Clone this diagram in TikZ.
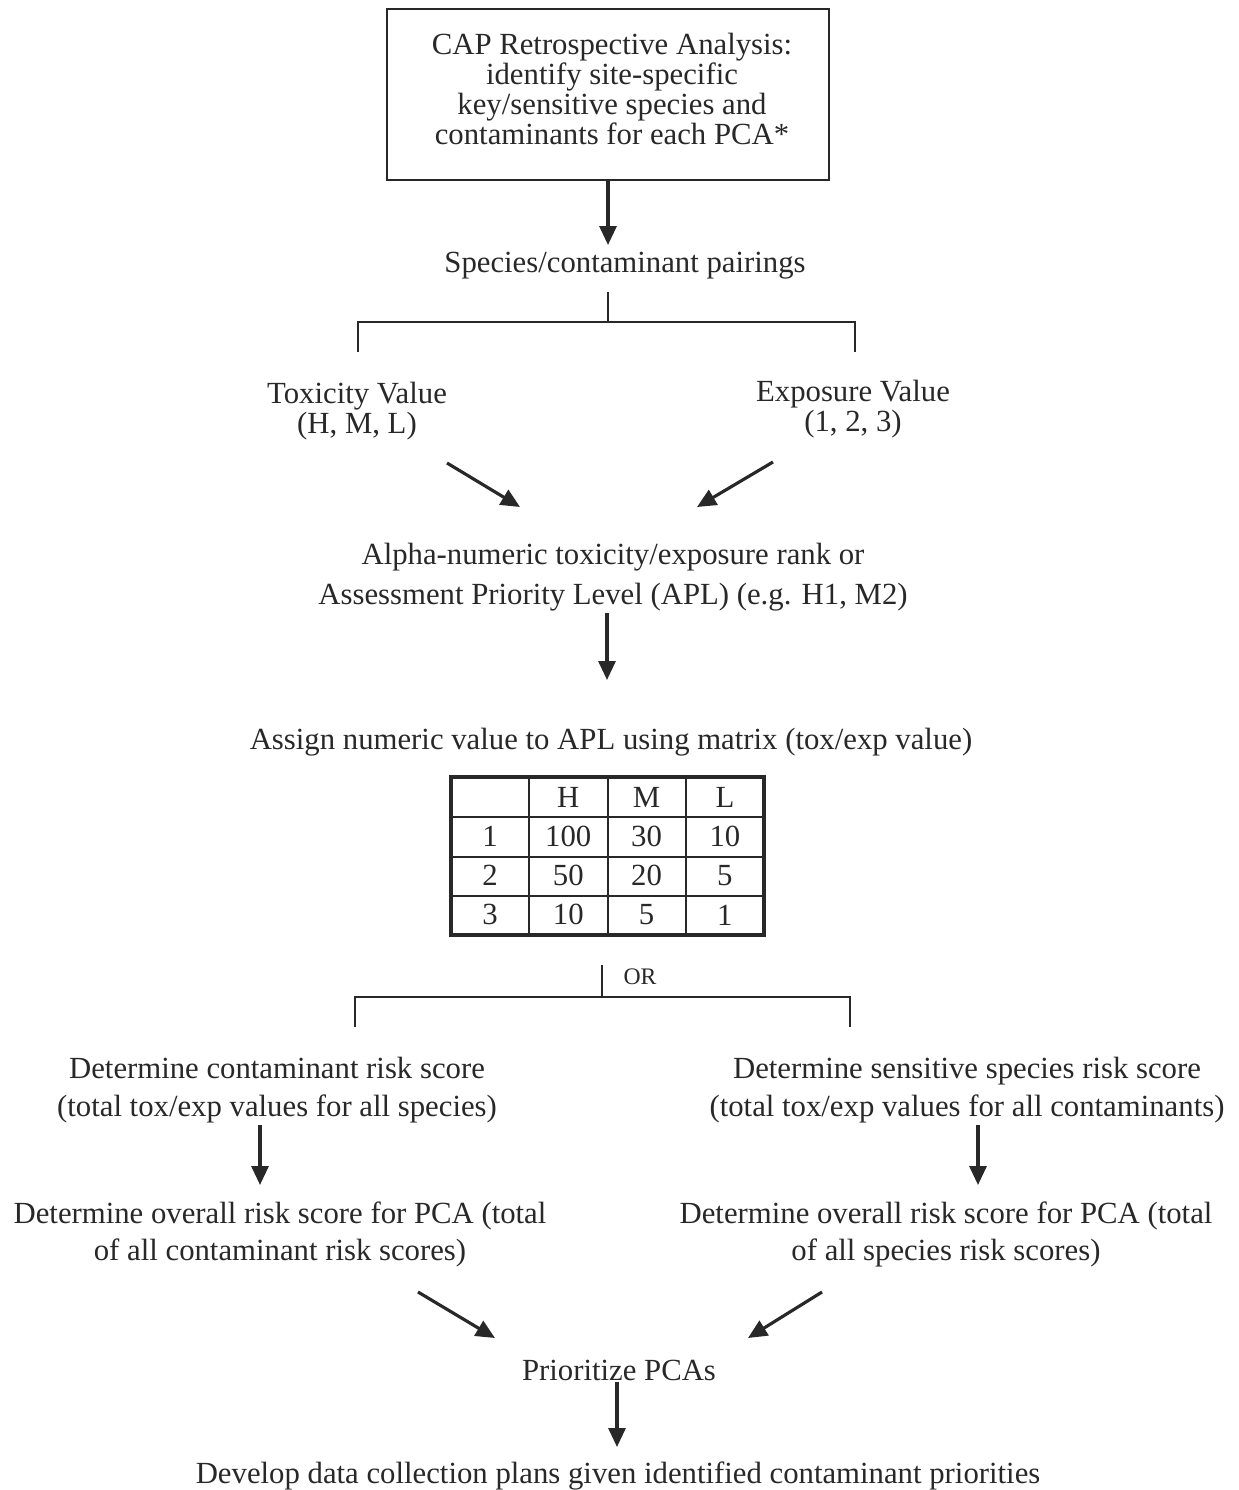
\documentclass[tikz,border=0pt]{standalone}
\usepackage{fontspec}
\setmainfont{Liberation Serif}
\usetikzlibrary{arrows.meta,positioning}
\definecolor{ink}{RGB}{40,40,40}

\tikzset{
  lbl/.style={font=\fontsize{17.5}{21}\selectfont, text=ink, align=center, inner sep=1pt},
  capbox/.style={draw=ink, line width=1.1pt, minimum width=8.84cm, minimum height=3.42cm},
  cell/.style={lbl, inner sep=0pt},
  flow/.style={-{Triangle[length=0.38cm,width=0.34cm]}, line width=1.8pt, ink},
  brk/.style={line width=1.1pt, ink},
}

\begin{document}
\begin{tikzpicture}[x=0.02cm,y=-0.02cm]
  \useasboundingbox (0,0) rectangle (1238,1490);
  % top box
  \node[capbox] (cap) at (608,94.5) {};
  \node[lbl, font=\fontsize{17.5}{17.2}\selectfont] (captxt) at (612,89)
    {CAP Retrospective Analysis:\\identify site-specific\\key/sensitive species and\\contaminants for each PCA*};
  \node[lbl] (pair) at (625,266) {Species/contaminant pairings};
  \draw[flow] (cap.south) -- (cap.south |- 0,245) coordinate (pairTop);
  % first split
  \coordinate (splitA) at (608,322);
  \draw[brk] (608,292) -- (splitA);
  \draw[brk] (358,352) |- (855,322) -- (855,352);
  \node[lbl, font=\fontsize{17.5}{17}\selectfont] (tox) at (357,411) {Toxicity Value\\(H, M, L)};
  \node[lbl, font=\fontsize{17.5}{17}\selectfont] (expo) at (853,409) {Exposure Value\\(1, 2, 3)};
  % rank
  \node[lbl, font=\fontsize{17.5}{23}\selectfont] (apl) at (613,577)
    {Alpha-numeric toxicity/exposure rank or\\Assessment Priority Level (APL) (e.g. H1, M2)};
  \coordinate (toxOut) at (447,463);
  \coordinate (expoOut) at (773,462);
  \draw[flow] (toxOut) -- (520,507) coordinate (aplInL);
  \draw[flow] (expoOut) -- (697,507) coordinate (aplInR);
  \node[lbl] (assign) at (611,742) {Assign numeric value to APL using matrix (tox/exp value)};
  \draw[flow] (apl.south -| 607,0) -- (607,680) coordinate (assignTop);
  % matrix
  \foreach \row [count=\r from 0] in {{{},H,M,L},{1,100,30,10},{2,50,20,5},{3,10,5,1}}
    \foreach \cell [count=\c from 0] in \row
      \node[cell] (m-\r-\c) at ({490+78.3*\c},{797+39.3*\r}) {\cell};
  \foreach \x in {529,608,686}
    \draw[line width=1pt, ink] (\x,777) -- (\x,935);
  \foreach \y in {817,857,896}
    \draw[line width=1.6pt, ink] (451,\y) -- (764,\y);
  \draw[line width=2.1pt, ink] (451,777) rectangle (764,935);
  % second split
  \node[lbl, font=\fontsize{13.5}{16}\selectfont] (orlbl) at (640,977) {OR};
  \draw[brk] (602,965) -- (602,997) coordinate (splitB);
  \draw[brk] (355,1027) |- (850,997) -- (850,1027);
  \node[lbl, font=\fontsize{17.5}{21.5}\selectfont] (contam) at (277,1090)
    {Determine contaminant risk score\\(total tox/exp values for all species)};
  \node[lbl, font=\fontsize{17.5}{21.5}\selectfont] (spec) at (967,1090)
    {Determine sensitive species risk score\\(total tox/exp values for all contaminants)};
  \node[lbl, font=\fontsize{17.5}{21}\selectfont] (allL) at (280,1234)
    {Determine overall risk score for PCA (total\\of all contaminant risk scores)};
  \node[lbl, font=\fontsize{17.5}{21}\selectfont] (allR) at (946,1234)
    {Determine overall risk score for PCA (total\\of all species risk scores)};
  \draw[flow] (contam.south -| 260,0) -- (260,1185) coordinate (allLTop);
  \draw[flow] (spec.south -| 978,0) -- (978,1185) coordinate (allRTop);
  % final steps
  \node[lbl] (prio) at (619,1370) {Prioritize PCAs};
  \node[lbl] (plan) at (618,1476) {Develop data collection plans given identified contaminant priorities};
  \coordinate (allLOut) at (418,1292);
  \coordinate (allROut) at (822,1292);
  \draw[flow] (allLOut) -- (495,1338) coordinate (prioInL);
  \draw[flow] (allROut) -- (748,1338) coordinate (prioInR);
  \draw[flow] (prio.south -| 617,0) -- (617,1447) coordinate (planTop);
\end{tikzpicture}
\end{document}
